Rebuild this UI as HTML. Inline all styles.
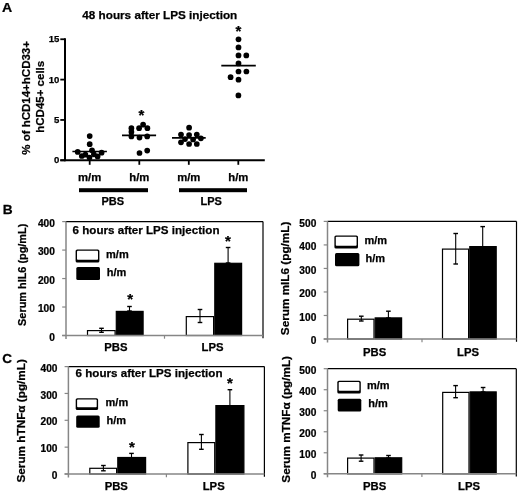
<!DOCTYPE html>
<html><head><meta charset="utf-8"><style>
html,body{margin:0;padding:0;background:#fff;}
svg{filter:grayscale(1) blur(0.35px);}
text{stroke:#000;stroke-width:0.25px;font-family:"Liberation Sans",sans-serif;}
svg{display:block;}
</style></head><body>
<svg width="520" height="493" viewBox="0 0 520 493">
<rect width="520" height="493" fill="#fff"/>
<text transform="translate(2.0,12.3) scale(1.12,1)" font-size="12.6" font-family="Liberation Sans, sans-serif" font-weight="bold">A</text>
<text x="82.3" y="19.2" font-size="11.72" text-anchor="start" font-family="Liberation Sans, sans-serif" font-weight="bold" >48 hours after LPS injection</text>
<text transform="translate(30.0,97.9) rotate(-90)" x="0" y="0" font-size="11.5" text-anchor="middle" font-family="Liberation Sans, sans-serif" font-weight="bold">% of hCD14+hCD33+</text>
<text transform="translate(43.6,96.8) rotate(-90)" x="0" y="0" font-size="11.5" text-anchor="middle" font-family="Liberation Sans, sans-serif" font-weight="bold">hCD45+ cells</text>
<line x1="65" y1="38.2" x2="65" y2="161.2" stroke="#000" stroke-width="2"/>
<line x1="60.3" y1="160.3" x2="65" y2="160.3" stroke="#000" stroke-width="1.8"/>
<text x="59.3" y="163.35000000000002" font-size="9.6" text-anchor="end" font-family="Liberation Sans, sans-serif" font-weight="bold" >0</text>
<line x1="60.3" y1="119.95000000000002" x2="65" y2="119.95000000000002" stroke="#000" stroke-width="1.8"/>
<text x="59.3" y="123.00000000000001" font-size="9.6" text-anchor="end" font-family="Liberation Sans, sans-serif" font-weight="bold" >5</text>
<line x1="60.3" y1="79.60000000000001" x2="65" y2="79.60000000000001" stroke="#000" stroke-width="1.8"/>
<text x="59.3" y="82.65" font-size="9.6" text-anchor="end" font-family="Liberation Sans, sans-serif" font-weight="bold" >10</text>
<line x1="60.3" y1="39.25" x2="65" y2="39.25" stroke="#000" stroke-width="1.8"/>
<text x="59.3" y="42.3" font-size="9.6" text-anchor="end" font-family="Liberation Sans, sans-serif" font-weight="bold" >15</text>
<line x1="60.3" y1="160.3" x2="264.8" y2="160.3" stroke="#000" stroke-width="2.1"/>
<line x1="89.7" y1="160" x2="89.7" y2="164.8" stroke="#000" stroke-width="1.8"/>
<line x1="139.3" y1="160" x2="139.3" y2="164.8" stroke="#000" stroke-width="1.8"/>
<line x1="188.8" y1="160" x2="188.8" y2="164.8" stroke="#000" stroke-width="1.8"/>
<line x1="238.3" y1="160" x2="238.3" y2="164.8" stroke="#000" stroke-width="1.8"/>
<text x="89.7" y="181.2" font-size="11.3" text-anchor="middle" font-family="Liberation Sans, sans-serif" font-weight="bold" >m/m</text>
<text x="139.3" y="181.2" font-size="11.3" text-anchor="middle" font-family="Liberation Sans, sans-serif" font-weight="bold" >h/m</text>
<text x="188.8" y="181.2" font-size="11.3" text-anchor="middle" font-family="Liberation Sans, sans-serif" font-weight="bold" >m/m</text>
<text x="238.3" y="181.2" font-size="11.3" text-anchor="middle" font-family="Liberation Sans, sans-serif" font-weight="bold" >h/m</text>
<rect x="79" y="188.2" width="69" height="4" fill="#000"/>
<rect x="179" y="188.2" width="68" height="4" fill="#000"/>
<text x="112.7" y="205.3" font-size="11" text-anchor="middle" font-family="Liberation Sans, sans-serif" font-weight="bold" >PBS</text>
<text x="211.2" y="205.3" font-size="11" text-anchor="middle" font-family="Liberation Sans, sans-serif" font-weight="bold" >LPS</text>
<circle cx="89.7" cy="136.1" r="2.85" fill="#000"/>
<circle cx="89.7" cy="144.2" r="2.85" fill="#000"/>
<circle cx="92" cy="150.3" r="2.85" fill="#000"/>
<circle cx="77.7" cy="151.9" r="2.85" fill="#000"/>
<circle cx="101.6" cy="152.7" r="2.85" fill="#000"/>
<circle cx="81.8" cy="156.0" r="2.85" fill="#000"/>
<circle cx="85.4" cy="154.7" r="2.85" fill="#000"/>
<circle cx="93.9" cy="154.3" r="2.85" fill="#000"/>
<circle cx="97.6" cy="156.4" r="2.85" fill="#000"/>
<circle cx="89.5" cy="157.6" r="2.85" fill="#000"/>
<circle cx="131.4" cy="128.2" r="2.85" fill="#000"/>
<circle cx="131.4" cy="131.9" r="2.85" fill="#000"/>
<circle cx="131.4" cy="136.4" r="2.85" fill="#000"/>
<circle cx="139.1" cy="128.2" r="2.85" fill="#000"/>
<circle cx="143.1" cy="124.7" r="2.85" fill="#000"/>
<circle cx="147.4" cy="128.2" r="2.85" fill="#000"/>
<circle cx="139.5" cy="137.6" r="2.85" fill="#000"/>
<circle cx="147.2" cy="136.4" r="2.85" fill="#000"/>
<circle cx="139.5" cy="153.0" r="2.85" fill="#000"/>
<circle cx="147.2" cy="150.6" r="2.85" fill="#000"/>
<circle cx="189.1" cy="127.7" r="2.85" fill="#000"/>
<circle cx="181" cy="134.6" r="2.85" fill="#000"/>
<circle cx="189.1" cy="135" r="2.85" fill="#000"/>
<circle cx="196.8" cy="134.6" r="2.85" fill="#000"/>
<circle cx="185" cy="139.1" r="2.85" fill="#000"/>
<circle cx="193.1" cy="139.5" r="2.85" fill="#000"/>
<circle cx="200.9" cy="138.3" r="2.85" fill="#000"/>
<circle cx="181" cy="142.3" r="2.85" fill="#000"/>
<circle cx="189.1" cy="144" r="2.85" fill="#000"/>
<circle cx="196.8" cy="144" r="2.85" fill="#000"/>
<circle cx="238.4" cy="95.4" r="2.85" fill="#000"/>
<circle cx="238.5" cy="39.3" r="2.85" fill="#000"/>
<circle cx="238.5" cy="47.4" r="2.85" fill="#000"/>
<circle cx="238.5" cy="55.4" r="2.85" fill="#000"/>
<circle cx="246.3" cy="55.4" r="2.85" fill="#000"/>
<circle cx="238.5" cy="63.4" r="2.85" fill="#000"/>
<circle cx="238.5" cy="71.5" r="2.85" fill="#000"/>
<circle cx="246.4" cy="71.5" r="2.85" fill="#000"/>
<circle cx="230.6" cy="77.2" r="2.85" fill="#000"/>
<circle cx="238.5" cy="79.7" r="2.85" fill="#000"/>
<line x1="72.4" y1="151.5" x2="106.9" y2="151.5" stroke="#000" stroke-width="1.6"/>
<line x1="122" y1="135.4" x2="156.1" y2="135.4" stroke="#000" stroke-width="1.6"/>
<line x1="172" y1="137.9" x2="205.7" y2="137.9" stroke="#000" stroke-width="1.6"/>
<line x1="221.3" y1="65.6" x2="255.8" y2="65.6" stroke="#000" stroke-width="1.6"/>
<text x="141.5" y="119.85" font-size="15" text-anchor="middle" font-family="Liberation Sans, sans-serif" font-weight="bold">*</text>
<text x="238.3" y="36.15" font-size="15" text-anchor="middle" font-family="Liberation Sans, sans-serif" font-weight="bold">*</text>
<line x1="66" y1="221.6" x2="263" y2="221.6" stroke="#000" stroke-width="1.3"/>
<line x1="263" y1="221.6" x2="263" y2="338.3" stroke="#000" stroke-width="1.2"/>
<rect x="87.5" y="330.6" width="27.6" height="4.9" fill="#fff" stroke="#000" stroke-width="1.2"/>
<rect x="116.3" y="311.4" width="26.8" height="24.1" fill="#000" stroke="#000" stroke-width="1.2"/>
<rect x="186.3" y="316.6" width="27.3" height="18.9" fill="#fff" stroke="#000" stroke-width="1.2"/>
<rect x="214.8" y="263.3" width="26.8" height="72.2" fill="#000" stroke="#000" stroke-width="1.2"/>
<line x1="101.5" y1="328.3" x2="101.5" y2="332.3" stroke="#000" stroke-width="1.1"/>
<line x1="99.2" y1="328.3" x2="103.8" y2="328.3" stroke="#000" stroke-width="1.4"/>
<line x1="99.2" y1="332.3" x2="103.8" y2="332.3" stroke="#000" stroke-width="1.4"/>
<line x1="129.5" y1="306.5" x2="129.5" y2="311" stroke="#000" stroke-width="1.1"/>
<line x1="127.2" y1="306.5" x2="131.8" y2="306.5" stroke="#000" stroke-width="1.4"/>
<line x1="127.2" y1="311" x2="131.8" y2="311" stroke="#000" stroke-width="1.4"/>
<line x1="200" y1="309.5" x2="200" y2="322.5" stroke="#000" stroke-width="1.1"/>
<line x1="197.7" y1="309.5" x2="202.3" y2="309.5" stroke="#000" stroke-width="1.4"/>
<line x1="197.7" y1="322.5" x2="202.3" y2="322.5" stroke="#000" stroke-width="1.4"/>
<line x1="228.1" y1="247.5" x2="228.1" y2="263" stroke="#000" stroke-width="1.1"/>
<line x1="225.79999999999998" y1="247.5" x2="230.4" y2="247.5" stroke="#000" stroke-width="1.4"/>
<line x1="225.79999999999998" y1="263" x2="230.4" y2="263" stroke="#000" stroke-width="1.4"/>
<line x1="66" y1="221.6" x2="66" y2="339.0" stroke="#868686" stroke-width="1.5"/>
<line x1="62.2" y1="335.5" x2="263" y2="335.5" stroke="#868686" stroke-width="1.6"/>
<line x1="164.5" y1="335.5" x2="164.5" y2="338.7" stroke="#868686" stroke-width="1.2"/>
<line x1="62.2" y1="335.5" x2="66" y2="335.5" stroke="#868686" stroke-width="1.2"/>
<text transform="translate(54.9,340.60) scale(0.96,0.95)" font-size="10.6" text-anchor="end" font-family="Liberation Sans, sans-serif" font-weight="bold">0</text>
<line x1="62.2" y1="307.025" x2="66" y2="307.025" stroke="#868686" stroke-width="1.2"/>
<text transform="translate(54.9,312.12) scale(0.96,0.95)" font-size="10.6" text-anchor="end" font-family="Liberation Sans, sans-serif" font-weight="bold">100</text>
<line x1="62.2" y1="278.55" x2="66" y2="278.55" stroke="#868686" stroke-width="1.2"/>
<text transform="translate(54.9,283.65) scale(0.96,0.95)" font-size="10.6" text-anchor="end" font-family="Liberation Sans, sans-serif" font-weight="bold">200</text>
<line x1="62.2" y1="250.075" x2="66" y2="250.075" stroke="#868686" stroke-width="1.2"/>
<text transform="translate(54.9,255.17) scale(0.96,0.95)" font-size="10.6" text-anchor="end" font-family="Liberation Sans, sans-serif" font-weight="bold">300</text>
<line x1="62.2" y1="221.6" x2="66" y2="221.6" stroke="#868686" stroke-width="1.2"/>
<text transform="translate(54.9,226.70) scale(0.96,0.95)" font-size="10.6" text-anchor="end" font-family="Liberation Sans, sans-serif" font-weight="bold">400</text>
<text x="130.2" y="304.15" font-size="15" text-anchor="middle" font-family="Liberation Sans, sans-serif" font-weight="bold">*</text>
<text x="227.8" y="245.65" font-size="15" text-anchor="middle" font-family="Liberation Sans, sans-serif" font-weight="bold">*</text>
<text x="72.6" y="234.10000000000002" font-size="11.6" text-anchor="start" font-family="Liberation Sans, sans-serif" font-weight="bold" >6 hours after LPS injection</text>
<rect x="75.6" y="249.4" width="23.80" height="13.10" rx="1.6" fill="#000"/>
<rect x="77.00" y="250.70" width="21.00" height="9.10" rx="0.8" fill="#fff"/>
<rect x="76.3" y="266.9" width="23.700000000000003" height="13.100000000000023" rx="1.5" fill="#000"/>
<text x="106.1" y="257.6" font-size="11" text-anchor="start" font-family="Liberation Sans, sans-serif" font-weight="bold" >m/m</text>
<text x="106.8" y="275.7" font-size="11" text-anchor="start" font-family="Liberation Sans, sans-serif" font-weight="bold" >h/m</text>
<text x="115.9" y="350.7" font-size="11.3" text-anchor="middle" font-family="Liberation Sans, sans-serif" font-weight="bold" >PBS</text>
<text x="212.6" y="350.7" font-size="11.3" text-anchor="middle" font-family="Liberation Sans, sans-serif" font-weight="bold" >LPS</text>
<text transform="translate(25.6,274.8) rotate(-90)" x="0" y="0" font-size="10.9" text-anchor="middle" font-family="Liberation Sans, sans-serif" font-weight="bold">Serum hIL6 (pg/mL)</text>
<line x1="327.5" y1="221.4" x2="516.5" y2="221.4" stroke="#000" stroke-width="1.3"/>
<line x1="516.5" y1="221.4" x2="516.5" y2="341.8" stroke="#000" stroke-width="1.2"/>
<rect x="347.6" y="319.2" width="26.4" height="19.8" fill="#fff" stroke="#000" stroke-width="1.2"/>
<rect x="375.2" y="317.9" width="26.4" height="21.1" fill="#000" stroke="#000" stroke-width="1.2"/>
<rect x="442.5" y="249.1" width="26.1" height="89.9" fill="#fff" stroke="#000" stroke-width="1.2"/>
<rect x="469.8" y="246.6" width="26.4" height="92.4" fill="#000" stroke="#000" stroke-width="1.2"/>
<line x1="361.3" y1="316.2" x2="361.3" y2="321" stroke="#000" stroke-width="1.1"/>
<line x1="359.0" y1="316.2" x2="363.6" y2="316.2" stroke="#000" stroke-width="1.4"/>
<line x1="359.0" y1="321" x2="363.6" y2="321" stroke="#000" stroke-width="1.4"/>
<line x1="388.4" y1="311.2" x2="388.4" y2="318" stroke="#000" stroke-width="1.1"/>
<line x1="386.09999999999997" y1="311.2" x2="390.7" y2="311.2" stroke="#000" stroke-width="1.4"/>
<line x1="386.09999999999997" y1="318" x2="390.7" y2="318" stroke="#000" stroke-width="1.4"/>
<line x1="455.7" y1="233.5" x2="455.7" y2="264" stroke="#000" stroke-width="1.1"/>
<line x1="453.4" y1="233.5" x2="458.0" y2="233.5" stroke="#000" stroke-width="1.4"/>
<line x1="453.4" y1="264" x2="458.0" y2="264" stroke="#000" stroke-width="1.4"/>
<line x1="482.7" y1="226.6" x2="482.7" y2="247" stroke="#000" stroke-width="1.1"/>
<line x1="480.4" y1="226.6" x2="485.0" y2="226.6" stroke="#000" stroke-width="1.4"/>
<line x1="480.4" y1="247" x2="485.0" y2="247" stroke="#000" stroke-width="1.4"/>
<line x1="327.5" y1="221.4" x2="327.5" y2="342.5" stroke="#868686" stroke-width="1.5"/>
<line x1="323.7" y1="339" x2="516.5" y2="339" stroke="#868686" stroke-width="1.6"/>
<line x1="422.0" y1="339" x2="422.0" y2="342.2" stroke="#868686" stroke-width="1.2"/>
<line x1="323.7" y1="339.0" x2="327.5" y2="339.0" stroke="#868686" stroke-width="1.2"/>
<text transform="translate(316.3,344.10) scale(0.96,0.95)" font-size="10.6" text-anchor="end" font-family="Liberation Sans, sans-serif" font-weight="bold">0</text>
<line x1="323.7" y1="315.48" x2="327.5" y2="315.48" stroke="#868686" stroke-width="1.2"/>
<text transform="translate(316.3,320.58) scale(0.96,0.95)" font-size="10.6" text-anchor="end" font-family="Liberation Sans, sans-serif" font-weight="bold">100</text>
<line x1="323.7" y1="291.96" x2="327.5" y2="291.96" stroke="#868686" stroke-width="1.2"/>
<text transform="translate(316.3,297.06) scale(0.96,0.95)" font-size="10.6" text-anchor="end" font-family="Liberation Sans, sans-serif" font-weight="bold">200</text>
<line x1="323.7" y1="268.44" x2="327.5" y2="268.44" stroke="#868686" stroke-width="1.2"/>
<text transform="translate(316.3,273.54) scale(0.96,0.95)" font-size="10.6" text-anchor="end" font-family="Liberation Sans, sans-serif" font-weight="bold">300</text>
<line x1="323.7" y1="244.92000000000002" x2="327.5" y2="244.92000000000002" stroke="#868686" stroke-width="1.2"/>
<text transform="translate(316.3,250.02) scale(0.96,0.95)" font-size="10.6" text-anchor="end" font-family="Liberation Sans, sans-serif" font-weight="bold">400</text>
<line x1="323.7" y1="221.4" x2="327.5" y2="221.4" stroke="#868686" stroke-width="1.2"/>
<text transform="translate(316.3,226.50) scale(0.96,0.95)" font-size="10.6" text-anchor="end" font-family="Liberation Sans, sans-serif" font-weight="bold">500</text>
<rect x="334.4" y="235.4" width="23.60" height="13.10" rx="1.6" fill="#000"/>
<rect x="335.80" y="236.70" width="20.80" height="9.10" rx="0.8" fill="#fff"/>
<rect x="335" y="253" width="24.399999999999977" height="13.199999999999989" rx="1.5" fill="#000"/>
<text x="364.4" y="244.2" font-size="11" text-anchor="start" font-family="Liberation Sans, sans-serif" font-weight="bold" >m/m</text>
<text x="365.6" y="262.4" font-size="11" text-anchor="start" font-family="Liberation Sans, sans-serif" font-weight="bold" >h/m</text>
<text x="374.7" y="356.4" font-size="11.3" text-anchor="middle" font-family="Liberation Sans, sans-serif" font-weight="bold" >PBS</text>
<text x="468" y="356.4" font-size="11.3" text-anchor="middle" font-family="Liberation Sans, sans-serif" font-weight="bold" >LPS</text>
<text transform="translate(288.8,278.4) rotate(-90)" x="0" y="0" font-size="11.75" text-anchor="middle" font-family="Liberation Sans, sans-serif" font-weight="bold">Serum mIL6 (pg/mL)</text>
<line x1="68.4" y1="366.6" x2="264.4" y2="366.6" stroke="#000" stroke-width="1.3"/>
<line x1="264.4" y1="366.6" x2="264.4" y2="476.8" stroke="#000" stroke-width="1.2"/>
<rect x="89.8" y="468.3" width="26.8" height="5.7" fill="#fff" stroke="#000" stroke-width="1.2"/>
<rect x="117.8" y="457.5" width="27.8" height="16.5" fill="#000" stroke="#000" stroke-width="1.2"/>
<rect x="187.9" y="442.6" width="26.8" height="31.4" fill="#fff" stroke="#000" stroke-width="1.2"/>
<rect x="215.9" y="405.6" width="28.0" height="68.4" fill="#000" stroke="#000" stroke-width="1.2"/>
<line x1="103.4" y1="465.5" x2="103.4" y2="470.8" stroke="#000" stroke-width="1.1"/>
<line x1="101.10000000000001" y1="465.5" x2="105.7" y2="465.5" stroke="#000" stroke-width="1.4"/>
<line x1="101.10000000000001" y1="470.8" x2="105.7" y2="470.8" stroke="#000" stroke-width="1.4"/>
<line x1="131.5" y1="453.4" x2="131.5" y2="458" stroke="#000" stroke-width="1.1"/>
<line x1="129.2" y1="453.4" x2="133.8" y2="453.4" stroke="#000" stroke-width="1.4"/>
<line x1="129.2" y1="458" x2="133.8" y2="458" stroke="#000" stroke-width="1.4"/>
<line x1="201.4" y1="434.5" x2="201.4" y2="449.3" stroke="#000" stroke-width="1.1"/>
<line x1="199.1" y1="434.5" x2="203.70000000000002" y2="434.5" stroke="#000" stroke-width="1.4"/>
<line x1="199.1" y1="449.3" x2="203.70000000000002" y2="449.3" stroke="#000" stroke-width="1.4"/>
<line x1="229.9" y1="389.7" x2="229.9" y2="406" stroke="#000" stroke-width="1.1"/>
<line x1="227.6" y1="389.7" x2="232.20000000000002" y2="389.7" stroke="#000" stroke-width="1.4"/>
<line x1="227.6" y1="406" x2="232.20000000000002" y2="406" stroke="#000" stroke-width="1.4"/>
<line x1="68.4" y1="366.6" x2="68.4" y2="477.5" stroke="#868686" stroke-width="1.5"/>
<line x1="64.60000000000001" y1="474" x2="264.4" y2="474" stroke="#868686" stroke-width="1.6"/>
<line x1="166.39999999999998" y1="474" x2="166.39999999999998" y2="477.2" stroke="#868686" stroke-width="1.2"/>
<line x1="64.60000000000001" y1="474.0" x2="68.4" y2="474.0" stroke="#868686" stroke-width="1.2"/>
<text transform="translate(57.5,479.10) scale(0.96,0.95)" font-size="10.6" text-anchor="end" font-family="Liberation Sans, sans-serif" font-weight="bold">0</text>
<line x1="64.60000000000001" y1="447.15" x2="68.4" y2="447.15" stroke="#868686" stroke-width="1.2"/>
<text transform="translate(57.5,452.25) scale(0.96,0.95)" font-size="10.6" text-anchor="end" font-family="Liberation Sans, sans-serif" font-weight="bold">100</text>
<line x1="64.60000000000001" y1="420.3" x2="68.4" y2="420.3" stroke="#868686" stroke-width="1.2"/>
<text transform="translate(57.5,425.40) scale(0.96,0.95)" font-size="10.6" text-anchor="end" font-family="Liberation Sans, sans-serif" font-weight="bold">200</text>
<line x1="64.60000000000001" y1="393.45000000000005" x2="68.4" y2="393.45000000000005" stroke="#868686" stroke-width="1.2"/>
<text transform="translate(57.5,398.55) scale(0.96,0.95)" font-size="10.6" text-anchor="end" font-family="Liberation Sans, sans-serif" font-weight="bold">300</text>
<line x1="64.60000000000001" y1="366.6" x2="68.4" y2="366.6" stroke="#868686" stroke-width="1.2"/>
<text transform="translate(57.5,371.70) scale(0.96,0.95)" font-size="10.6" text-anchor="end" font-family="Liberation Sans, sans-serif" font-weight="bold">400</text>
<text x="131.9" y="452.25" font-size="15" text-anchor="middle" font-family="Liberation Sans, sans-serif" font-weight="bold">*</text>
<text x="229.9" y="387.95" font-size="15" text-anchor="middle" font-family="Liberation Sans, sans-serif" font-weight="bold">*</text>
<text x="75.6" y="377.3" font-size="11.6" text-anchor="start" font-family="Liberation Sans, sans-serif" font-weight="bold" >6 hours after LPS injection</text>
<rect x="75.7" y="398.2" width="22.40" height="11.80" rx="1.6" fill="#000"/>
<rect x="77.10" y="399.50" width="19.60" height="7.80" rx="0.8" fill="#fff"/>
<rect x="76.2" y="415.5" width="23.5" height="12.199999999999989" rx="1.5" fill="#000"/>
<text x="105.6" y="406.4" font-size="11" text-anchor="start" font-family="Liberation Sans, sans-serif" font-weight="bold" >m/m</text>
<text x="106.5" y="424.4" font-size="11" text-anchor="start" font-family="Liberation Sans, sans-serif" font-weight="bold" >h/m</text>
<text x="116.3" y="490.1" font-size="11.3" text-anchor="middle" font-family="Liberation Sans, sans-serif" font-weight="bold" >PBS</text>
<text x="213.7" y="490.1" font-size="11.3" text-anchor="middle" font-family="Liberation Sans, sans-serif" font-weight="bold" >LPS</text>
<text transform="translate(25.1,420.8) rotate(-90)" x="0" y="0" font-size="11.75" text-anchor="middle" font-family="Liberation Sans, sans-serif" font-weight="bold">Serum hTNFα (pg/mL)</text>
<line x1="327.5" y1="368.7" x2="516.3" y2="368.7" stroke="#000" stroke-width="1.3"/>
<line x1="516.3" y1="368.7" x2="516.3" y2="476.6" stroke="#000" stroke-width="1.2"/>
<rect x="347.6" y="458.1" width="26.4" height="15.7" fill="#fff" stroke="#000" stroke-width="1.2"/>
<rect x="375.2" y="457.8" width="26.5" height="16.0" fill="#000" stroke="#000" stroke-width="1.2"/>
<rect x="442.7" y="392.4" width="26.3" height="81.4" fill="#fff" stroke="#000" stroke-width="1.2"/>
<rect x="470.2" y="391.9" width="26.0" height="81.9" fill="#000" stroke="#000" stroke-width="1.2"/>
<line x1="361.1" y1="455" x2="361.1" y2="461.2" stroke="#000" stroke-width="1.1"/>
<line x1="358.8" y1="455" x2="363.40000000000003" y2="455" stroke="#000" stroke-width="1.4"/>
<line x1="358.8" y1="461.2" x2="363.40000000000003" y2="461.2" stroke="#000" stroke-width="1.4"/>
<line x1="388.5" y1="455.5" x2="388.5" y2="458" stroke="#000" stroke-width="1.1"/>
<line x1="386.2" y1="455.5" x2="390.8" y2="455.5" stroke="#000" stroke-width="1.4"/>
<line x1="386.2" y1="458" x2="390.8" y2="458" stroke="#000" stroke-width="1.4"/>
<line x1="455.6" y1="385.6" x2="455.6" y2="397.7" stroke="#000" stroke-width="1.1"/>
<line x1="453.3" y1="385.6" x2="457.90000000000003" y2="385.6" stroke="#000" stroke-width="1.4"/>
<line x1="453.3" y1="397.7" x2="457.90000000000003" y2="397.7" stroke="#000" stroke-width="1.4"/>
<line x1="483.1" y1="387.5" x2="483.1" y2="392" stroke="#000" stroke-width="1.1"/>
<line x1="480.8" y1="387.5" x2="485.40000000000003" y2="387.5" stroke="#000" stroke-width="1.4"/>
<line x1="480.8" y1="392" x2="485.40000000000003" y2="392" stroke="#000" stroke-width="1.4"/>
<line x1="327.5" y1="368.7" x2="327.5" y2="477.3" stroke="#868686" stroke-width="1.5"/>
<line x1="323.7" y1="473.8" x2="516.3" y2="473.8" stroke="#868686" stroke-width="1.6"/>
<line x1="421.9" y1="473.8" x2="421.9" y2="477.0" stroke="#868686" stroke-width="1.2"/>
<line x1="323.7" y1="473.8" x2="327.5" y2="473.8" stroke="#868686" stroke-width="1.2"/>
<text transform="translate(316.3,478.90) scale(0.96,0.95)" font-size="10.6" text-anchor="end" font-family="Liberation Sans, sans-serif" font-weight="bold">0</text>
<line x1="323.7" y1="452.78000000000003" x2="327.5" y2="452.78000000000003" stroke="#868686" stroke-width="1.2"/>
<text transform="translate(316.3,457.88) scale(0.96,0.95)" font-size="10.6" text-anchor="end" font-family="Liberation Sans, sans-serif" font-weight="bold">100</text>
<line x1="323.7" y1="431.76" x2="327.5" y2="431.76" stroke="#868686" stroke-width="1.2"/>
<text transform="translate(316.3,436.86) scale(0.96,0.95)" font-size="10.6" text-anchor="end" font-family="Liberation Sans, sans-serif" font-weight="bold">200</text>
<line x1="323.7" y1="410.74" x2="327.5" y2="410.74" stroke="#868686" stroke-width="1.2"/>
<text transform="translate(316.3,415.84) scale(0.96,0.95)" font-size="10.6" text-anchor="end" font-family="Liberation Sans, sans-serif" font-weight="bold">300</text>
<line x1="323.7" y1="389.72" x2="327.5" y2="389.72" stroke="#868686" stroke-width="1.2"/>
<text transform="translate(316.3,394.82) scale(0.96,0.95)" font-size="10.6" text-anchor="end" font-family="Liberation Sans, sans-serif" font-weight="bold">400</text>
<line x1="323.7" y1="368.7" x2="327.5" y2="368.7" stroke="#868686" stroke-width="1.2"/>
<text transform="translate(316.3,373.80) scale(0.96,0.95)" font-size="10.6" text-anchor="end" font-family="Liberation Sans, sans-serif" font-weight="bold">500</text>
<rect x="337.3" y="380.8" width="23.50" height="12.70" rx="1.6" fill="#000"/>
<rect x="338.70" y="382.10" width="20.70" height="8.70" rx="0.8" fill="#fff"/>
<rect x="337.7" y="398.7" width="23.600000000000023" height="12.800000000000011" rx="1.5" fill="#000"/>
<text x="366.9" y="389.2" font-size="11" text-anchor="start" font-family="Liberation Sans, sans-serif" font-weight="bold" >m/m</text>
<text x="368.3" y="407.4" font-size="11" text-anchor="start" font-family="Liberation Sans, sans-serif" font-weight="bold" >h/m</text>
<text x="374.7" y="490.4" font-size="11.3" text-anchor="middle" font-family="Liberation Sans, sans-serif" font-weight="bold" >PBS</text>
<text x="469.1" y="490.4" font-size="11.3" text-anchor="middle" font-family="Liberation Sans, sans-serif" font-weight="bold" >LPS</text>
<text transform="translate(289.7,419.3) rotate(-90)" x="0" y="0" font-size="11.75" text-anchor="middle" font-family="Liberation Sans, sans-serif" font-weight="bold">Serum mTNFα (pg/mL)</text>
<text transform="translate(2.7,213.9) scale(1.03,1)" font-size="13.3" font-family="Liberation Sans, sans-serif" font-weight="bold">B</text>
<text transform="translate(2.2,363.1) scale(1.03,1)" font-size="13.2" font-family="Liberation Sans, sans-serif" font-weight="bold">C</text>
</svg>
</body></html>
